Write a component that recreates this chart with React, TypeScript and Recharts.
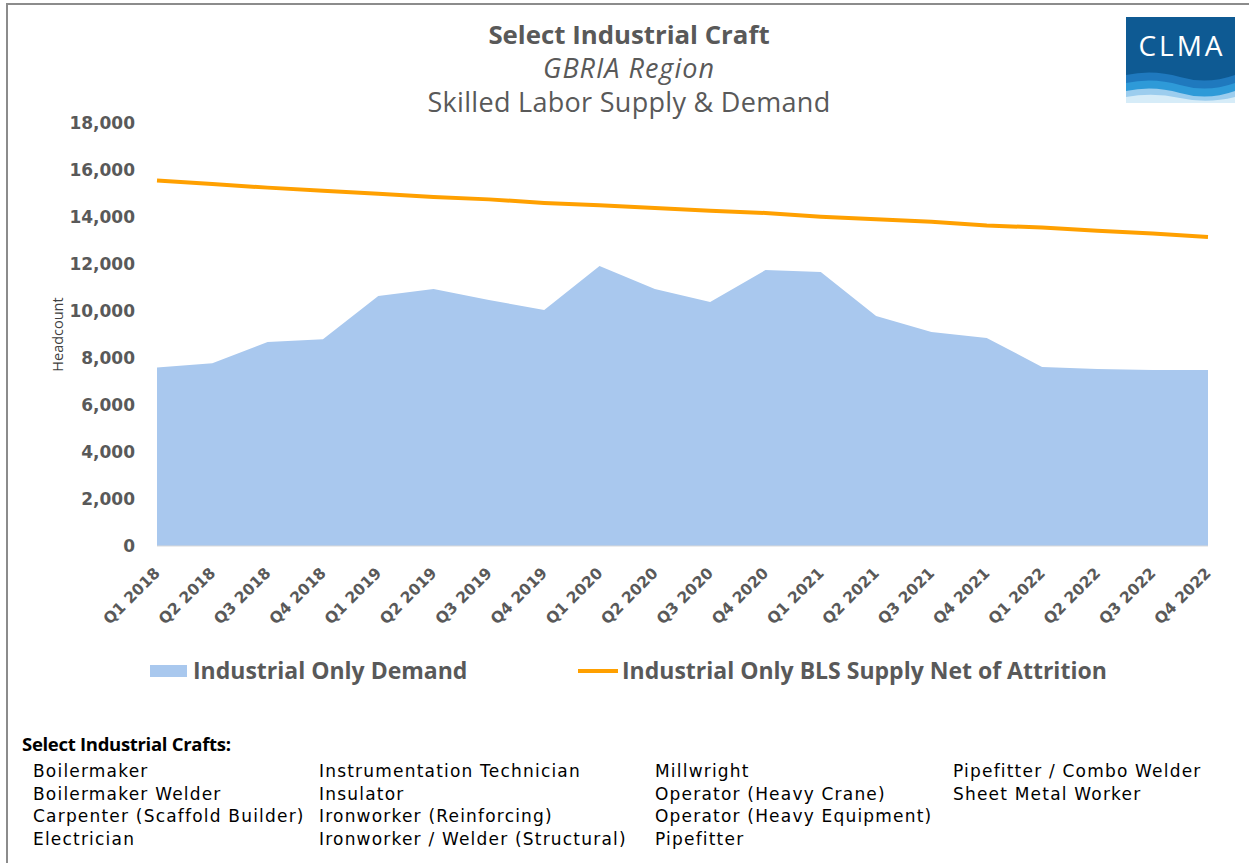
import React from 'react';
import { ComposedChart, Area, Line, XAxis, YAxis } from 'recharts';

const quarters = [
  'Q1 2018', 'Q2 2018', 'Q3 2018', 'Q4 2018',
  'Q1 2019', 'Q2 2019', 'Q3 2019', 'Q4 2019',
  'Q1 2020', 'Q2 2020', 'Q3 2020', 'Q4 2020',
  'Q1 2021', 'Q2 2021', 'Q3 2021', 'Q4 2021',
  'Q1 2022', 'Q2 2022', 'Q3 2022', 'Q4 2022',
];

const demand = [
  7600, 7780, 8680, 8800,
  10640, 10940, 10470, 10040,
  11910, 10940, 10380, 11740,
  11660, 9790, 9110, 8850,
  7620, 7530, 7490, 7490,
];

const supply = [
  15550, 15400, 15250, 15120,
  14990, 14850, 14750, 14600,
  14500, 14380, 14270, 14170,
  14010, 13900, 13800, 13640,
  13550, 13420, 13300, 13150,
];

const yTicks = [0, 2000, 4000, 6000, 8000, 10000, 12000, 14000, 16000, 18000];

const craftColumns = [
  ['Boilermaker', 'Boilermaker Welder', 'Carpenter (Scaffold Builder)', 'Electrician'],
  ['Instrumentation Technician', 'Insulator', 'Ironworker (Reinforcing)', 'Ironworker / Welder (Structural)'],
  ['Millwright', 'Operator (Heavy Crane)', 'Operator (Heavy Equipment)', 'Pipefitter'],
  ['Pipefitter / Combo Welder', 'Sheet Metal Worker'],
];

const grey = '#595959';
const demandColor = '#A9C8EE';
const supplyColor = '#FFA000';
const wide = "'DejaVu Sans', sans-serif";

const chartData = quarters.map((q, i) => ({
  quarter: q,
  demand: demand[i],
  supply: supply[i],
}));

function QuarterTick({ x, y, payload }: any) {
  const tx = x + 4;
  const ty = y + 20;
  return (
    <text
      x={tx}
      y={ty}
      transform={`rotate(-45, ${tx}, ${ty})`}
      textAnchor="end"
      fill={grey}
      fontSize={15.5}
      fontWeight={700}
      fontFamily={wide}
    >
      {payload.value}
    </text>
  );
}

function Logo() {
  return (
    <svg width={109} height={86} style={{ position: 'absolute', left: 1126, top: 17 }}>
      <rect x={0} y={0} width={109} height={86} fill="#0E5A93" />
      <text x={56} y={39} textAnchor="middle" fill="#fff" fontSize={28} fontFamily="'Open Sans', sans-serif" letterSpacing={3}>
        CLMA
      </text>
      <path d="M0 58 Q27 52 54 60 Q81 68 109 58 L109 86 L0 86 Z" fill="#1F79BE" />
      <path d="M0 66 Q27 60 54 68 Q81 76 109 66 L109 86 L0 86 Z" fill="#2E9AD8" />
      <path d="M0 74 Q27 68 54 76 Q81 84 109 74 L109 86 L0 86 Z" fill="#9CCDEE" />
      <path d="M0 80 Q27 75 54 81 Q81 87 109 80 L109 86 L0 86 Z" fill="#D6ECF8" />
    </svg>
  );
}

export default function App() {
  return (
    <div
      style={{
        position: 'absolute',
        left: 0,
        top: 0,
        width: 1249,
        height: 863,
        background: '#fff',
        overflow: 'hidden',
        fontFamily: "'Open Sans', sans-serif",
      }}
    >
      {/* frame */}
      <div style={{ position: 'absolute', left: 6, top: 3, width: 1260, height: 900, border: '2px solid #8c8c8c' }} />

      {/* titles */}
      <div style={{ position: 'absolute', left: 0, width: 1258, top: 17, textAlign: 'center', color: grey }}>
        <div style={{ fontWeight: 700, fontSize: 25.8, lineHeight: '34px' }}>Select Industrial Craft</div>
        <div style={{ fontStyle: 'italic', fontSize: 27, letterSpacing: 1, lineHeight: '34px' }}>GBRIA Region</div>
        <div style={{ fontSize: 27, letterSpacing: 0.3, lineHeight: '34px' }}>Skilled Labor Supply &amp; Demand</div>
      </div>

      <Logo />

      <div style={{ position: 'absolute', left: 0, top: 0 }}>
        <ComposedChart width={1249} height={640} data={chartData} margin={{ top: 123, right: 41, bottom: 0, left: 0 }}>
          <XAxis
            dataKey="quarter"
            height={94}
            interval={0}
            tick={<QuarterTick />}
            tickLine={false}
            axisLine={{ stroke: '#d9d9d9', strokeWidth: 1 }}
          />
          <YAxis
            width={157}
            domain={[0, 18000]}
            ticks={yTicks}
            interval={0}
            tickLine={false}
            axisLine={false}
            tickMargin={16}
            tickFormatter={(v: number) => v.toLocaleString('en-US')}
            tick={{ fill: grey, fontSize: 17, fontWeight: 700, fontFamily: wide }}
            label={{
              value: 'Headcount',
              angle: -90,
              position: 'insideLeft',
              offset: 58,
              style: { fill: '#404040', fontSize: 14.5, textAnchor: 'middle', fontFamily: "'Open Sans', sans-serif" },
            }}
          />
          <Area
            type="linear"
            dataKey="demand"
            name="Industrial Only Demand"
            stroke="none"
            fill={demandColor}
            fillOpacity={1}
            isAnimationActive={false}
          />
          <Line
            type="linear"
            dataKey="supply"
            name="Industrial Only BLS Supply Net of Attrition"
            stroke={supplyColor}
            strokeWidth={4}
            dot={false}
            isAnimationActive={false}
          />
        </ComposedChart>
      </div>

      {/* legend */}
      <div style={{ position: 'absolute', left: 150, top: 665, width: 37, height: 12, background: demandColor }} />
      <div style={{ position: 'absolute', left: 193, top: 654, fontSize: 23, fontWeight: 700, color: grey, lineHeight: '32px' }}>
        Industrial Only Demand
      </div>
      <div style={{ position: 'absolute', left: 578, top: 669, width: 40, height: 4, background: supplyColor }} />
      <div style={{ position: 'absolute', left: 622, top: 654, fontSize: 23, fontWeight: 700, color: grey, lineHeight: '32px' }}>
        Industrial Only BLS Supply Net of Attrition
      </div>

      {/* crafts list */}
      <div style={{ position: 'absolute', left: 22, top: 731, fontWeight: 700, fontSize: 18.5, color: '#000', letterSpacing: -0.3 }}>
        Select Industrial Crafts:
      </div>
      {craftColumns.map((col, ci) => (
        <div
          key={ci}
          style={{
            position: 'absolute',
            left: [33, 319, 655, 953][ci],
            top: 760,
            fontFamily: wide,
            fontSize: 17,
            letterSpacing: 1.2,
            lineHeight: '22.5px',
            color: '#000',
            whiteSpace: 'nowrap',
          }}
        >
          {col.map((c) => (
            <div key={c}>{c}</div>
          ))}
        </div>
      ))}
    </div>
  );
}
